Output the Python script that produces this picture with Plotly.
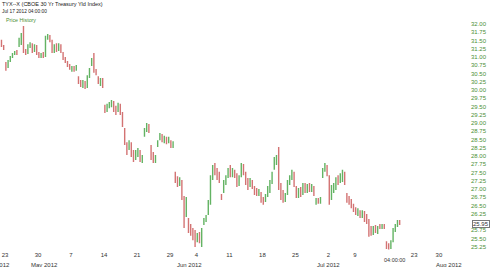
import plotly.graph_objects as go
import pandas as pd

# ---------------- data (TYX intraday OHLC, 3 sessions per day) ----------------
opens = [
    31.48, 31.33,
    30.82, 30.70, 30.88,
    31.00, 31.09, 31.15,
    31.33, 31.48, 31.82,
    31.21, 31.15, 31.30,
    31.39, 31.21, 31.33,
    31.12, 31.00, 31.09,
    31.06, 31.58, 31.64,
    31.48, 31.18, 31.33,
    31.21, 31.36, 31.12,
    30.97, 30.85, 30.76,
    30.61, 30.70, 30.61,
    30.39, 30.27, 30.12,
    30.24, 30.09, 30.39,
    30.76, 31.03, 30.61,
    30.39, 30.18, 30.30,
    29.52, 29.36, 29.52,
    29.55, 29.64, 29.45,
    29.39, 29.55, 29.30,
    28.82, 28.39, 28.21,
    28.39, 28.12, 27.94,
    28.03, 28.15, 27.85,
    28.61, 28.79, 28.94,
    28.30, 28.03, 27.82,
    28.30, 28.52, 28.64,
    28.42, 28.55, 28.42,
    28.45, 28.27, 27.48,
    27.36, 27.15, 27.21,
    26.73, 26.21, 26.06,
    25.88, 25.76, 25.70,
    25.45, 25.64, 25.33,
    25.94, 26.06, 26.27,
    26.61, 27.36, 27.73,
    27.58, 27.42, 26.82,
    26.97, 27.18, 27.39,
    27.67, 27.42, 27.55,
    27.42, 27.15, 27.42,
    27.73, 27.48, 27.27,
    27.09, 27.24, 27.06,
    27.00, 26.82, 26.88,
    26.73, 26.64, 26.82,
    26.97, 27.21, 27.64,
    27.82, 27.97, 27.12,
    26.91, 26.67, 26.88,
    27.18, 27.33, 27.48,
    27.06, 26.79, 27.00,
    26.88, 27.15, 26.94,
    27.12, 26.97, 27.06,
    26.55, 26.70, 26.58,
    27.39, 27.58, 27.70,
    27.36, 26.73, 26.97,
    27.06, 27.39, 27.24,
    27.27, 27.48, 26.85,
    26.76, 26.64, 26.52,
    26.42, 26.24, 26.33,
    26.15, 26.30, 26.18,
    26.03, 25.82, 25.67,
    25.85, 25.70, 25.91,
    25.82, 25.91, 25.39,
    25.33, 25.24, 25.45,
    25.76, 25.88, 26.03,
]
highs = [
    31.52, 31.36,
    30.85, 30.91, 31.03,
    31.12, 31.18, 31.21,
    31.58, 31.73, 31.94,
    31.24, 31.39, 31.45,
    31.42, 31.39, 31.36,
    31.15, 31.12, 31.15,
    31.64, 31.70, 31.67,
    31.52, 31.39, 31.42,
    31.42, 31.39, 31.15,
    31.00, 30.88, 30.79,
    30.73, 30.73, 30.76,
    30.42, 30.30, 30.30,
    30.27, 30.45, 30.67,
    30.97, 31.12, 30.64,
    30.42, 30.36, 30.36,
    29.55, 29.58, 29.64,
    29.70, 29.67, 29.52,
    29.61, 29.58, 29.33,
    28.85, 28.42, 28.48,
    28.42, 28.18, 28.18,
    28.24, 28.18, 28.03,
    28.85, 29.00, 28.97,
    28.33, 28.12, 28.03,
    28.48, 28.70, 28.67,
    28.61, 28.58, 28.58,
    28.48, 28.45, 27.52,
    27.39, 27.36, 27.27,
    26.79, 26.76, 26.12,
    25.94, 25.82, 25.76,
    25.67, 25.70, 25.82,
    26.12, 26.21, 26.67,
    27.42, 27.73, 27.79,
    27.64, 27.52, 26.85,
    27.27, 27.42, 27.64,
    27.73, 27.64, 27.58,
    27.48, 27.42, 27.79,
    27.76, 27.52, 27.33,
    27.33, 27.27, 27.09,
    27.03, 27.00, 26.91,
    26.76, 26.85, 27.09,
    27.27, 27.52, 27.97,
    28.03, 28.27, 27.18,
    26.97, 26.88, 27.27,
    27.42, 27.58, 27.52,
    27.09, 27.03, 27.06,
    27.18, 27.18, 27.15,
    27.18, 27.15, 27.09,
    26.73, 26.73, 26.76,
    27.64, 27.79, 27.73,
    27.42, 27.12, 27.18,
    27.36, 27.42, 27.48,
    27.58, 27.52, 26.88,
    26.79, 26.70, 26.55,
    26.45, 26.42, 26.36,
    26.36, 26.33, 26.24,
    26.09, 25.88, 25.88,
    25.91, 25.88, 25.94,
    25.94, 25.94, 25.42,
    25.36, 25.45, 25.82,
    25.94, 26.06, 26.06,
]
lows = [
    31.30, 31.21,
    30.58, 30.67, 30.85,
    30.97, 31.06, 31.06,
    31.30, 31.36, 31.12,
    31.06, 31.09, 31.27,
    31.12, 31.15, 31.06,
    30.97, 30.97, 30.97,
    31.00, 31.52, 31.45,
    31.12, 31.12, 31.15,
    31.18, 31.12, 30.91,
    30.82, 30.70, 30.61,
    30.55, 30.55, 30.58,
    30.18, 30.09, 30.06,
    30.03, 30.06, 30.36,
    30.73, 30.52, 30.45,
    30.18, 30.12, 30.06,
    29.30, 29.33, 29.45,
    29.48, 29.33, 29.24,
    29.33, 29.24, 28.88,
    28.33, 28.03, 28.18,
    27.97, 27.82, 27.88,
    27.97, 27.82, 27.79,
    28.58, 28.73, 28.70,
    27.88, 27.79, 27.79,
    28.27, 28.48, 28.42,
    28.39, 28.36, 28.39,
    28.24, 28.24, 27.18,
    27.06, 27.09, 26.67,
    25.82, 26.15, 25.67,
    25.58, 25.45, 25.24,
    25.39, 25.36, 25.24,
    25.91, 26.00, 26.21,
    26.52, 27.27, 27.42,
    27.27, 27.18, 26.67,
    26.88, 27.12, 27.33,
    27.36, 27.36, 27.33,
    27.06, 27.09, 27.36,
    27.42, 27.12, 26.97,
    27.06, 27.00, 26.82,
    26.79, 26.79, 26.58,
    26.52, 26.61, 26.76,
    26.88, 27.15, 27.58,
    27.73, 26.97, 26.67,
    26.58, 26.61, 26.82,
    27.12, 27.27, 27.06,
    26.73, 26.73, 26.76,
    26.82, 26.88, 26.88,
    26.91, 26.91, 26.79,
    26.52, 26.55, 26.55,
    27.33, 27.52, 27.39,
    26.52, 26.67, 26.88,
    26.97, 27.12, 27.18,
    27.21, 27.12, 26.58,
    26.52, 26.42, 26.30,
    26.21, 26.18, 26.12,
    26.12, 26.00, 25.94,
    25.55, 25.58, 25.61,
    25.67, 25.64, 25.79,
    25.79, 25.79, 25.18,
    25.17, 25.18, 25.39,
    25.70, 25.85, 25.91,
]
closes = [
    31.33, 31.24,
    30.64, 30.88, 31.00,
    31.09, 31.15, 31.12,
    31.52, 31.67, 31.21,
    31.09, 31.33, 31.42,
    31.18, 31.33, 31.12,
    31.00, 31.09, 31.03,
    31.58, 31.67, 31.52,
    31.18, 31.33, 31.21,
    31.36, 31.15, 30.97,
    30.85, 30.73, 30.67,
    30.70, 30.58, 30.70,
    30.24, 30.12, 30.24,
    30.09, 30.39, 30.61,
    30.91, 30.55, 30.52,
    30.21, 30.30, 30.12,
    29.33, 29.55, 29.61,
    29.67, 29.39, 29.30,
    29.55, 29.30, 28.94,
    28.39, 28.12, 28.42,
    28.03, 27.88, 28.12,
    28.18, 27.88, 27.97,
    28.79, 28.94, 28.76,
    27.94, 27.85, 27.97,
    28.45, 28.64, 28.48,
    28.55, 28.42, 28.52,
    28.30, 28.39, 27.24,
    27.12, 27.30, 26.73,
    25.94, 26.67, 25.76,
    25.64, 25.52, 25.33,
    25.61, 25.45, 25.76,
    26.06, 26.15, 26.61,
    27.33, 27.64, 27.52,
    27.33, 27.24, 26.70,
    27.18, 27.36, 27.58,
    27.45, 27.58, 27.39,
    27.12, 27.36, 27.73,
    27.52, 27.18, 27.03,
    27.27, 27.06, 26.88,
    26.85, 26.94, 26.64,
    26.58, 26.79, 27.03,
    27.21, 27.45, 27.91,
    27.97, 27.09, 26.76,
    26.67, 26.82, 27.21,
    27.36, 27.52, 27.12,
    26.82, 26.97, 26.85,
    27.12, 26.97, 27.09,
    26.97, 27.09, 26.85,
    26.67, 26.58, 26.70,
    27.58, 27.73, 27.45,
    26.61, 27.03, 27.12,
    27.30, 27.21, 27.42,
    27.52, 27.18, 26.64,
    26.58, 26.48, 26.36,
    26.27, 26.36, 26.18,
    26.30, 26.06, 26.00,
    25.67, 25.64, 25.82,
    25.73, 25.82, 25.82,
    25.91, 25.85, 25.24,
    25.21, 25.39, 25.76,
    25.88, 26.03, 25.95,
]

first_day = "2012-04-20"
last_day = "2012-07-17"
holidays = ["2012-05-28", "2012-07-04"]
session_hours = [9.5, 12.0, 14.5]          # three bars per trading day
first_day_hours = [12.0, 14.5]             # partial first day

x_tick_dates = ["2012-04-23", "2012-04-30", "2012-05-07", "2012-05-14", "2012-05-21",
                "2012-05-29", "2012-06-04", "2012-06-11", "2012-06-18", "2012-06-25",
                "2012-07-02", "2012-07-09", "2012-07-23", "2012-07-30"]
x_tick_text = ["23", "30", "7", "14", "21", "29", "4", "11", "18", "25", "2", "9", "23", "30"]
month_dates = ["2012-05-01", "2012-06-01", "2012-07-02", "2012-08-01"]
month_text = ["May 2012", "Jun 2012", "Jul 2012", "Aug 2012"]

y_ticks = [25.25 + 0.25 * i for i in range(28)]

# ---------------- trading-day scale ----------------
tdays = [d for d in pd.bdate_range(first_day, "2012-08-15")
         if d.strftime("%Y-%m-%d") not in holidays]
origin = tdays.index(pd.Timestamp("2012-04-23"))
last_i = tdays.index(pd.Timestamp(last_day))
FUTURE = 0.75

def day_pos(date):
    i = tdays.index(pd.Timestamp(date))
    if i <= last_i:
        return i - origin
    return (last_i - origin) + FUTURE * (i - last_i)

xs = []
for i in range(tdays.index(pd.Timestamp(first_day)), last_i + 1):
    hours = first_day_hours if i == 0 else session_hours
    for h in hours:
        xs.append(day_pos(tdays[i]) + (h - 8.5) / 7.5)

n = min(len(xs), len(opens), len(highs), len(lows), len(closes))

GREEN = "rgba(60,160,60,0.8)"
RED = "rgba(200,80,80,0.8)"
TXT_GREEN = "#4b8f35"

fig = go.Figure(go.Ohlc(
    x=xs[:n], open=opens[:n], high=highs[:n], low=lows[:n], close=closes[:n],
    increasing=dict(line=dict(color=GREEN, width=1.4)),
    decreasing=dict(line=dict(color=RED, width=1.4)),
    tickwidth=0.3, hoverinfo="skip",
))

FONT = "Liberation Sans, Arial, sans-serif"
last_close = closes[n - 1]
annotations = [
    dict(text="TYX--X (CBOE 30 Yr Treasury Yld Index)", xref="paper", yref="paper",
         x=0, y=1, xanchor="left", yanchor="top", yshift=1, showarrow=False,
         font=dict(family=FONT, size=5.5, color="#222")),
    dict(text="Jul 17 2012 04:00:00", xref="paper", yref="paper",
         x=0, y=1, xanchor="left", yanchor="top", yshift=-7, showarrow=False,
         font=dict(family=FONT, size=4.8, color="#222")),
    dict(text="Price History", xref="paper", yref="paper",
         x=0, y=1, xanchor="left", yanchor="top", xshift=4, yshift=-15, showarrow=False,
         font=dict(family=FONT, size=5.3, color=TXT_GREEN)),
    dict(text=f"{last_close:.2f}", xref="paper", yref="y",
         x=1, y=last_close, xanchor="left", yanchor="middle", xshift=2, showarrow=False,
         bgcolor="white", bordercolor="#777", borderwidth=1, borderpad=0,
         font=dict(family=FONT, size=6, color="#333")),
    dict(text="04:00:00", xref="x", yref="paper", x=day_pos(last_day), y=0,
         xanchor="center", yanchor="top", yshift=-5, showarrow=False,
         font=dict(family=FONT, size=5.5, color="#333")),
    dict(text="Apr 2012", xref="paper", yref="paper", x=12 / 470, y=0,
         xanchor="right", yanchor="top", yshift=-10, showarrow=False,
         font=dict(family=FONT, size=6, color="#333")),
]
for d, t in zip(month_dates, month_text):
    annotations.append(dict(text=t, xref="x", yref="paper", x=day_pos(d), y=0,
                            xanchor="center", yanchor="top", yshift=-10, showarrow=False,
                            font=dict(family=FONT, size=6, color="#333")))

# the last-price box hides the tick label it sits on
y_text = ["" if abs(v - last_close) < 0.1 else f"{v:.2f}" for v in y_ticks]

fig.update_layout(
    width=490, height=267,
    margin=dict(l=0, r=20, t=0, b=17),
    paper_bgcolor="white", plot_bgcolor="white",
    showlegend=False,
    xaxis=dict(range=[-5 / 6.6, 465 / 6.6], rangeslider=dict(visible=False),
               showgrid=False, zeroline=False, showline=False, ticks="",
               tickvals=[day_pos(d) for d in x_tick_dates], ticktext=x_tick_text,
               tickfont=dict(family=FONT, size=6, color="#333"), tickangle=0),
    yaxis=dict(side="right", range=[25.152, 32.727], showgrid=False, zeroline=False,
               showline=False, ticks="", tickvals=y_ticks, ticktext=y_text,
               tickfont=dict(family=FONT, size=6, color=TXT_GREEN)),
    annotations=annotations,
)

fig.write_html("out.html")
